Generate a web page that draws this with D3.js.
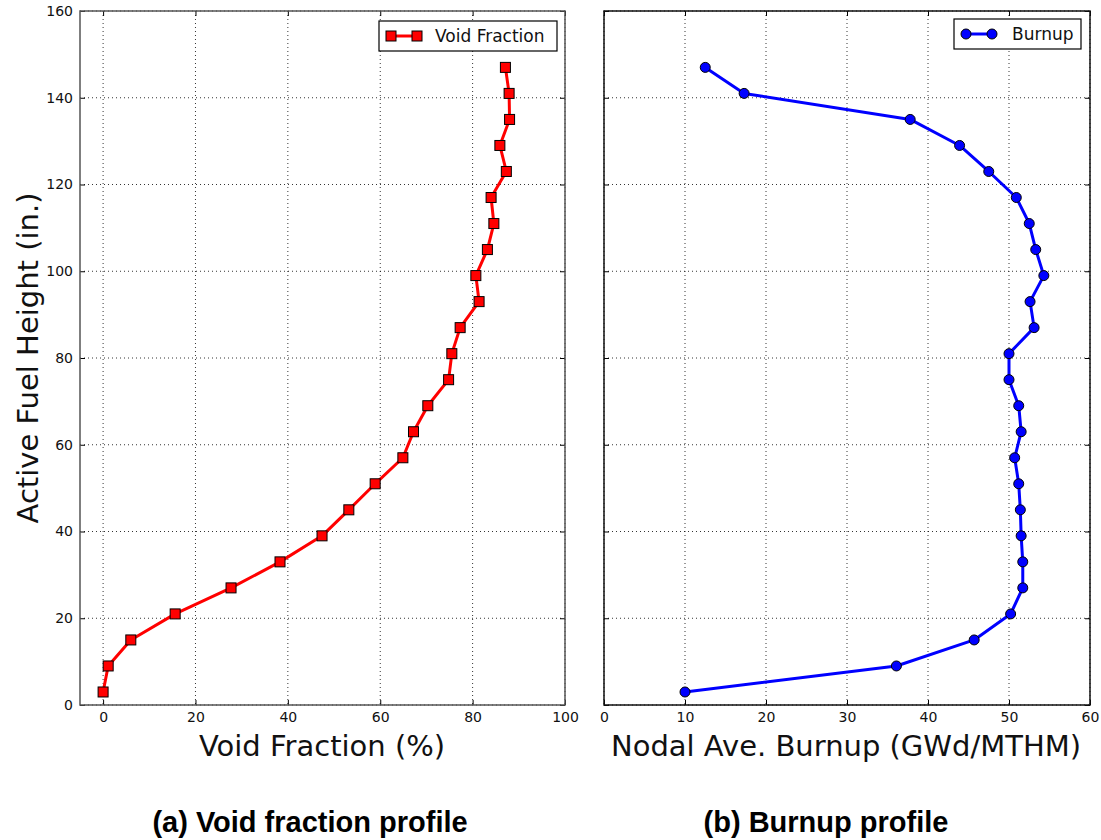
<!DOCTYPE html>
<html><head><meta charset="utf-8">
<script src="https://cdn.jsdelivr.net/npm/d3@7"></script>
<style>
body{margin:0;background:#fff;}
svg{display:block;}
text{font-family:"DejaVu Sans",sans-serif;}
text.caption{font-family:"Liberation Sans",Arial,sans-serif;font-weight:bold;}
</style></head>
<body>
<svg id="chart" width="1101" height="840"></svg>
<script>
const heights = [3,9,15,21,27,33,39,45,51,57,63,69,75,81,87,93,99,105,111,117,123,129,135,141,147];
const voidFraction = [0,1.1,6,15.6,27.7,38.3,47.4,53.2,58.9,64.9,67.2,70.3,74.8,75.5,77.3,81.4,80.7,83.2,84.6,84,87.3,85.9,88,87.9,87.1];
const burnup = [10.0,36.1,45.7,50.2,51.7,51.7,51.5,51.4,51.2,50.7,51.5,51.2,50.0,50.0,53.1,52.6,54.3,53.3,52.5,50.9,47.5,43.9,37.8,17.3,12.5];
const yTicks = [0,20,40,60,80,100,120,140,160];
const xTicksVoid = [0,20,40,60,80,100];
const xTicksBurn = [0,10,20,30,40,50,60];

const svg = d3.select("#chart");
const plotTop = 11, plotBottom = 705;
const y = d3.scaleLinear().domain([0,160]).range([plotBottom, plotTop]);

function panel(opts){
  const x = d3.scaleLinear().domain(opts.xdom).range([opts.x0, opts.x1]);
  const g = svg.append("g");
  // grid
  g.selectAll(".gx").data(opts.xticks).enter().append("line")
    .attr("x1", d=>x(d)).attr("x2", d=>x(d)).attr("y1", plotTop).attr("y2", plotBottom)
    .attr("stroke","#000").attr("stroke-width",0.8).attr("stroke-dasharray","1,3");
  g.selectAll(".gy").data(yTicks).enter().append("line")
    .attr("x1", opts.x0).attr("x2", opts.x1).attr("y1", d=>y(d)).attr("y2", d=>y(d))
    .attr("stroke","#000").attr("stroke-width",0.8).attr("stroke-dasharray","1,3");
  // axes (ticks inward)
  const ax = d3.axisBottom(x).tickValues(opts.xticks).tickSize(-5).tickPadding(7).tickFormat(d3.format("d"));
  const axTop = d3.axisTop(x).tickValues(opts.xticks).tickSize(-5).tickFormat("");
  const ay = d3.axisLeft(y).tickValues(yTicks).tickSize(-5).tickPadding(7).tickFormat(opts.ylabels ? d3.format("d") : "");
  const ayR = d3.axisRight(y).tickValues(yTicks).tickSize(-5).tickFormat("");
  const gb = g.append("g").attr("transform",`translate(0,${plotBottom})`).call(ax);
  const gt = g.append("g").attr("transform",`translate(0,${plotTop})`).call(axTop);
  const gl = g.append("g").attr("transform",`translate(${opts.x0},0)`).call(ay);
  const gr = g.append("g").attr("transform",`translate(${opts.x1},0)`).call(ayR);
  [gb,gt,gl,gr].forEach(s=>{
    s.select(".domain").remove();
    s.selectAll("line").attr("stroke","#000").attr("stroke-width",1);
    s.selectAll("text").attr("font-size",14).attr("fill","#111").attr("font-family","DejaVu Sans, sans-serif");
  });
  // frame
  g.append("rect").attr("x",opts.x0).attr("y",plotTop).attr("width",opts.x1-opts.x0).attr("height",plotBottom-plotTop)
    .attr("fill","none").attr("stroke",opts.frame).attr("stroke-width",1.5);
  // series
  const pts = heights.map((h,i)=>[opts.values[i], h]);
  g.append("path").datum(pts)
    .attr("d", d3.line().x(d=>x(d[0])).y(d=>y(d[1])))
    .attr("fill","none").attr("stroke",opts.color).attr("stroke-width",3).attr("stroke-linejoin","round");
  if(opts.marker==="square"){
    g.selectAll(".m").data(pts).enter().append("rect")
      .attr("x",d=>x(d[0])-5).attr("y",d=>y(d[1])-5).attr("width",10).attr("height",10)
      .attr("fill",opts.color).attr("stroke","#000").attr("stroke-width",1);
  } else {
    g.selectAll(".m").data(pts).enter().append("circle")
      .attr("cx",d=>x(d[0])).attr("cy",d=>y(d[1])).attr("r",5)
      .attr("fill",opts.color).attr("stroke","#000").attr("stroke-width",1);
  }
  // x label
  g.append("text").attr("x",(opts.xlabelX)).attr("y",756).attr("text-anchor","middle")
    .attr("font-size",29).attr("fill","#111").text(opts.xlabel);
  // legend
  const L = opts.legend;
  g.append("rect").attr("x",L.x).attr("y",L.y).attr("width",L.w).attr("height",30)
    .attr("fill","#fff").attr("stroke","#000").attr("stroke-width",1.2);
  g.append("line").attr("x1",L.x+12).attr("x2",L.x+38).attr("y1",L.y+15).attr("y2",L.y+15)
    .attr("stroke",opts.color).attr("stroke-width",3);
  [L.x+12, L.x+38].forEach(cx=>{
    if(opts.marker==="square"){
      g.append("rect").attr("x",cx-5).attr("y",L.y+10).attr("width",10).attr("height",10)
        .attr("fill",opts.color).attr("stroke","#000").attr("stroke-width",1);
    } else {
      g.append("circle").attr("cx",cx).attr("cy",L.y+15).attr("r",5)
        .attr("fill",opts.color).attr("stroke","#000").attr("stroke-width",1);
    }
  });
  g.append("text").attr("x",L.x+L.tx).attr("y",L.y+21).attr("font-size",17).attr("fill","#111").text(opts.name);
  // caption
  svg.append("text").attr("class","caption").attr("x",opts.capX).attr("y",832).attr("text-anchor","middle")
    .attr("font-size",29).attr("fill","#000").text(opts.caption);
}

panel({xdom:[-5,100], x0:80, x1:565, xticks:xTicksVoid, ylabels:true, frame:"#555",
  values:voidFraction, color:"#ff0000", marker:"square", xlabel:"Void Fraction (%)", xlabelX:322,
  legend:{x:379,y:21,w:178,tx:56}, name:"Void Fraction", caption:"(a) Void fraction profile", capX:310});
panel({xdom:[0,60], x0:604, x1:1090, xticks:xTicksBurn, ylabels:false, frame:"#111",
  values:burnup, color:"#0000ff", marker:"circle", xlabel:"Nodal Ave. Burnup (GWd/MTHM)", xlabelX:846,
  legend:{x:954,y:19,w:127,tx:58}, name:"Burnup", caption:"(b) Burnup profile", capX:826});

svg.append("text").attr("transform","translate(38,358) rotate(-90)").attr("text-anchor","middle")
  .attr("font-size",29).attr("fill","#111").text("Active Fuel Height (in.)");
</script>
</body></html>
